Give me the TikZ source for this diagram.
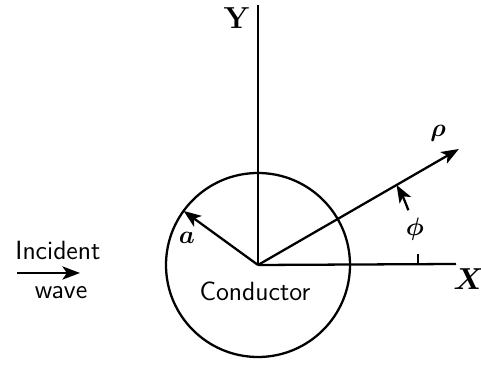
\documentclass[tikz,border=0pt]{standalone}
\usepackage{bm}
\usetikzlibrary{calc, arrows.meta}

\begin{document}
\begin{tikzpicture}[x=0.02cm, y=0.02cm, line width=1.3pt, >={Stealth[length=10pt, width=7.5pt, inset=2.5pt]}]
  \useasboundingbox (0, 0) rectangle (481, 365);
  \def\r{92};
  \def\rr{160};
  \def\ang{30};
  \coordinate (O) at (258, 100);
  \coordinate (Ytop) at (258, 360);
  \coordinate (Xend) at (456, 101);
  \coordinate (P) at ($(O)+(\ang:232)$);
  \coordinate (A) at ($(O)+(144:\r)$);
  \coordinate (W1) at (17, 92);
  \coordinate (W2) at (80, 92);
  \draw (O) circle[radius=\r];
  \draw (O)--(Ytop);
  \draw (O)--(Xend);
  \node[font=\fontsize{16}{18}\selectfont] (ylab) at (237, 347) {$\mathbf{Y}$};
  \node[font=\fontsize{16}{18}\selectfont] (xlab) at (469, 86) {$\bm{X}$};
  \draw[->] (O)--(P);
  \node[font=\fontsize{15}{18}\selectfont] (rholab) at (438, 232) {$\bm{\rho}$};
  \draw[->] (O)--(A);
  \node[font=\fontsize{15}{18}\selectfont] (alab) at (187, 127) {$\bm{a}$};
  \draw ($(O)+(0:\rr)$) -- ++(0, 11);
  \draw[->] ($(O)+(20:\rr)$) arc (20:\ang:\rr);
  \node[font=\fontsize{15}{18}\selectfont] (philab) at (415, 136) {$\bm{\phi}$};
  \node[font=\sffamily\fontsize{15}{18}\selectfont] (cond) at (255, 74) {Conductor};
  \node[font=\sffamily\fontsize{15}{18}\selectfont] (inc) at (58, 115) {Incident};
  \draw[->] (W1)--(W2);
  \node[font=\sffamily\fontsize{15}{18}\selectfont] (wave) at (61, 72) {wave};
\end{tikzpicture}
\end{document}
